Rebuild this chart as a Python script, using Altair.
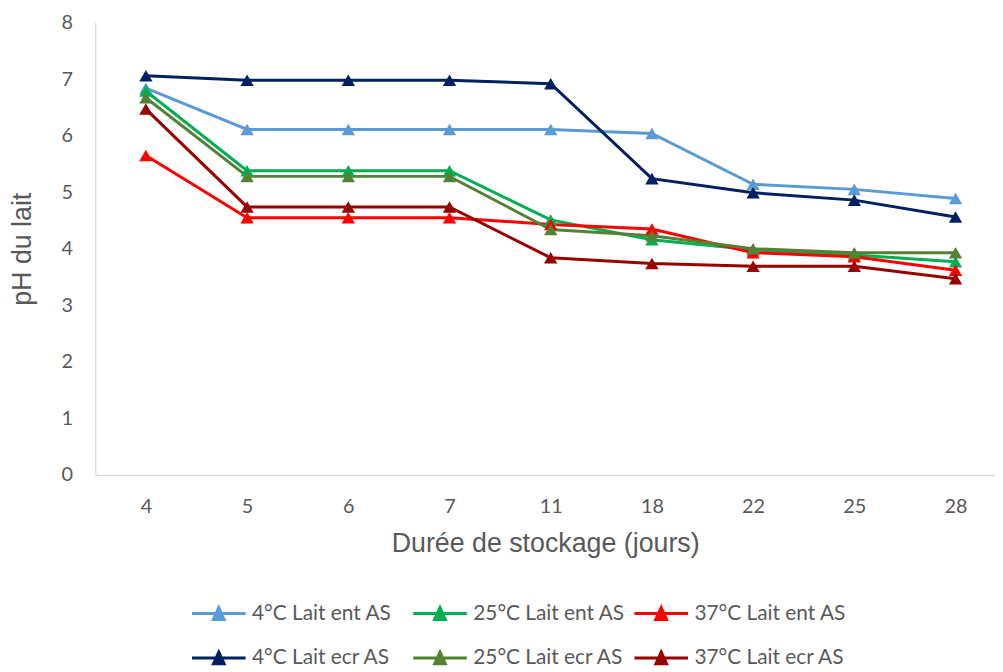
import pandas as pd
import altair as alt

# storage days (x categories)
days = ["4", "5", "6", "7", "11", "18", "22", "25", "28"]

series_names = [
    "4°C Lait ent AS", "25°C Lait ent AS", "37°C Lait ent AS",
    "4°C Lait ecr AS", "25°C Lait ecr AS", "37°C Lait ecr AS",
]
series_colors = ["#5B9BD5", "#00B050", "#FF0000", "#002060", "#548235", "#990000"]

ph_4_ent = [6.84, 6.11, 6.11, 6.11, 6.11, 6.04, 5.14, 5.05, 4.89]
ph_25_ent = [6.79, 5.38, 5.38, 5.38, 4.51, 4.16, 3.98, 3.89, 3.77]
ph_37_ent = [5.65, 4.55, 4.55, 4.55, 4.43, 4.35, 3.93, 3.86, 3.62]
ph_4_ecr = [7.06, 6.98, 6.98, 6.98, 6.92, 5.24, 4.99, 4.86, 4.56]
ph_25_ecr = [6.67, 5.28, 5.28, 5.28, 4.34, 4.23, 4.00, 3.93, 3.93]
ph_37_ecr = [6.47, 4.74, 4.74, 4.74, 3.84, 3.74, 3.69, 3.69, 3.47]

all_series = [ph_4_ent, ph_25_ent, ph_37_ent, ph_4_ecr, ph_25_ecr, ph_37_ecr]

rows = []
for name, values in zip(series_names, all_series):
    for i, (d, v) in enumerate(zip(days, values)):
        rows.append({"idx": i, "jour": d, "serie": name, "ph": v})
df = pd.DataFrame(rows)

label_font = "Lato"
title_font = "Liberation Sans"
grey = "#595959"

# x as category index so the bands line up like the original
x_labels = "[" + ",".join("'" + d + "'" for d in days) + "]"

color = alt.Color(
    "serie:N",
    scale=alt.Scale(domain=series_names, range=series_colors),
    legend=alt.Legend(
        title=None,
        orient="none",
        legendX=96,
        legendY=567,
        direction="horizontal",
        columns=3,
        gridAlign="all",
        columnPadding=3,
        rowPadding=4,
        symbolType="M-1,0H1M-0.2,0.22L0,-0.22L0.2,0.22Z",
        symbolSize=2916,
        symbolStrokeWidth=3,
        labelFont=label_font,
        labelFontSize=21,
        labelColor=grey,
        labelOffset=5,
    ),
)

chart = (
    alt.Chart(df)
    .mark_line(
        strokeWidth=3,
        point=alt.OverlayMarkDef(shape="triangle-up", filled=True, size=180, opacity=1),
    )
    .encode(
        alt.X("idx:Q")
        .scale(domain=[-0.5, 8.39], nice=False, zero=False)
        .axis(
            values=list(range(len(days))),
            labelExpr=x_labels + "[datum.value]",
            title="Durée de stockage (jours)",
            labelPadding=22,
            titlePadding=14,
        ),
        alt.Y("ph:Q")
        .scale(domain=[0, 8], nice=False)
        .axis(values=list(range(9)), title="pH du lait", labelPadding=23, titlePadding=25),
        color=color,
        order="idx:Q",
    )
    .properties(width=907, height=456, padding={"left": 0, "top": 2, "right": 0, "bottom": 0})
    .configure_view(stroke=None)
    .configure_axis(
        grid=False,
        ticks=False,
        domainColor="#D9D9D9",
        domainWidth=1.3,
        labelFont=label_font,
        labelFontSize=20,
        labelColor=grey,
        titleFont=title_font,
        titleFontSize=27,
        titleFontWeight="normal",
        titleColor=grey,
    )
)

chart.save("out.html", embed_options={"renderer": "svg", "actions": False})
